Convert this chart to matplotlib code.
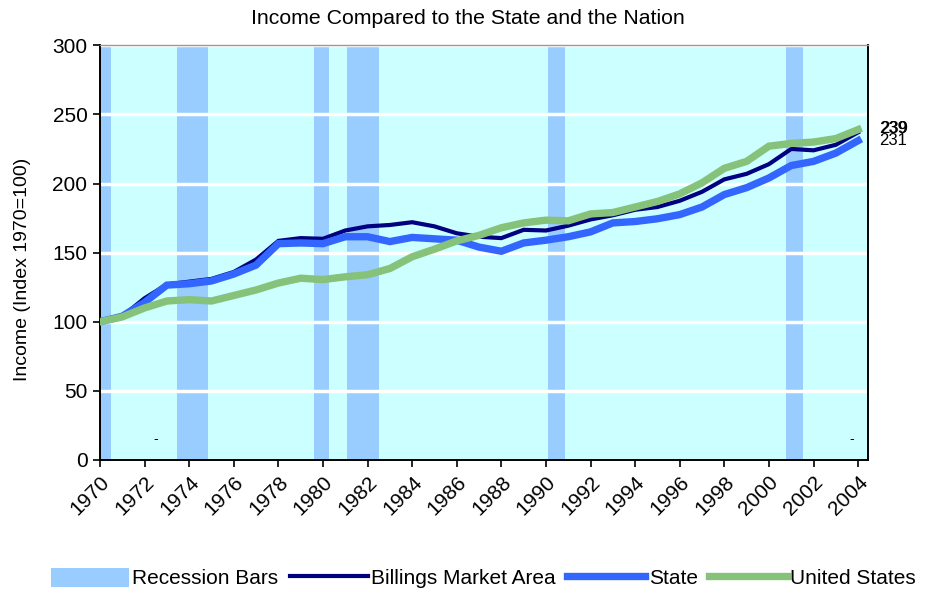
import matplotlib
matplotlib.use('Agg')
import matplotlib.pyplot as plt
import matplotlib.patches as mpatches
from matplotlib.lines import Line2D

plt.rcParams['font.family'] = ['Liberation Sans', 'DejaVu Sans']

years = list(range(1970, 2005))

billings = [100, 104, 117, 127, 129, 131, 136, 145, 158.5, 160.5,
            160, 166, 169, 170, 172, 169, 164, 161.5, 160.5, 166.5,
            166, 169.5, 174, 177, 181, 183, 187.5, 194, 203, 207,
            214, 225, 224, 228, 237]
state = [100, 104, 114, 126.5, 127.5, 129.5, 134.5, 141, 156.5, 157,
         156.5, 161.5, 161.5, 158, 161, 160, 159, 154, 151, 157,
         159, 161.5, 165, 171.5, 172.5, 174.5, 177.5, 183, 192, 197,
         204, 213, 216, 222, 231]
us = [100, 103.5, 110, 115, 116, 115, 119, 123, 128, 131.5,
      130.5, 132.5, 134, 138.5, 147, 152.5, 158.5, 162.5, 168, 171.5,
      173.5, 173, 178, 179, 183, 187, 192.5, 200.5, 211, 216,
      227, 229, 230, 232.5, 239]

# recession periods (start, end) in fractional years
recession_start = [1969.9, 1973.45, 1979.6, 1981.1, 1990.1, 2000.75]
recession_end = [1970.5, 1974.85, 1980.25, 1982.5, 1990.85, 2001.55]

end_labels = ['239', '239', '231']

fig = plt.figure(figsize=(9.3, 5.94), dpi=100)
ax = fig.add_axes([0.1075, 0.2256, 0.826, 0.6982])
ax.set_facecolor('#CCFFFF')
ax.set_xlim(1970, 2004.45)
ax.set_ylim(0, 300)

for s, e in zip(recession_start, recession_end):
    ax.axvspan(max(s, 1970), e, color='#99CCFF', lw=0, zorder=1)

ax.set_yticks(range(0, 301, 50))
for v in range(50, 301, 50):
    ax.axhline(v, color='white', lw=2.5, zorder=1.5)

ax.plot(years, billings, color='#000080', lw=3.0, zorder=3,
        solid_joinstyle='miter')
ax.plot(years, state, color='#3366FF', lw=5.3, zorder=4,
        solid_joinstyle='miter')
ax.plot(years, us, color='#86C27A', lw=5.3, zorder=5,
        solid_joinstyle='miter')

# end labels (Billings and US overlap as in the source)
ax.text(years[-1] + 0.95, billings[-1] + 3, end_labels[0], fontsize=12,
        va='center', ha='left', clip_on=False)
ax.text(years[-1] + 0.98, us[-1] + 0.6, end_labels[1], fontsize=12,
        va='center', ha='left', clip_on=False)
ax.text(years[-1] + 0.95, state[-1], end_labels[2], fontsize=12,
        va='center', ha='left', clip_on=False)

# stray dash labels near the bottom
ax.text(1972.5, 15, '-', fontsize=10, ha='center', va='center')
ax.text(2003.7, 15, '-', fontsize=10, ha='center', va='center')

ax.set_xticks(range(1970, 2005, 2))
ax.set_xticklabels([str(y) for y in range(1970, 2005, 2)], rotation=45,
                   ha='right', va='top', rotation_mode='anchor', fontsize=15)
ax.tick_params(axis='x', length=5, width=1.2, direction='out', pad=4)
ax.tick_params(axis='y', length=5, width=1.2, direction='out', labelsize=15, pad=4)

for side in ['left', 'bottom', 'right']:
    ax.spines[side].set_color('black')
    ax.spines[side].set_linewidth(1.4)
ax.spines['top'].set_color('#999999')
ax.spines['top'].set_linewidth(1.0)

ax.set_ylabel('Income (Index 1970=100)', fontsize=14)
ax.yaxis.set_label_coords(-0.09, 0.46)
ax.set_title('Income Compared to the State and the Nation', fontsize=15.3,
             pad=15, x=0.479)

handles = [
    mpatches.Patch(facecolor='#99CCFF', edgecolor='none'),
    Line2D([0], [0], color='#000080', lw=3.0),
    Line2D([0], [0], color='#3366FF', lw=5.3),
    Line2D([0], [0], color='#86C27A', lw=5.3),
]
labels = ['Recession Bars', 'Billings Market Area', 'State', 'United States']
fig.legend(handles, labels, loc='lower center', bbox_to_anchor=(0.52, -0.022),
           ncol=4, frameon=False, fontsize=15, handlelength=3.75,
           handletextpad=0.15, columnspacing=0.55, handleheight=1.0)

fig.savefig('out.png', dpi=100, facecolor='white')
